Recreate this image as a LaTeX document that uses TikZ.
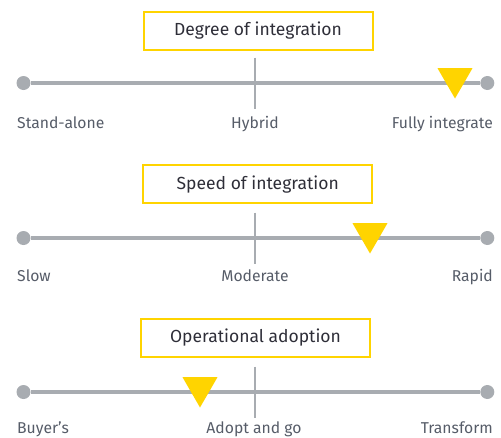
\documentclass[tikz,border=0pt]{standalone}
\usepackage{fontspec}
\setmainfont{Fira Sans}
\usetikzlibrary{shapes.geometric}
\definecolor{eyyellow}{HTML}{FFD400}
\definecolor{trackgray}{HTML}{A8ACB1}
\definecolor{labelgray}{HTML}{565C68}
\definecolor{titlegray}{HTML}{2E2E38}
\begin{document}
\begin{tikzpicture}[x=1pt, y=-1pt,
  title/.style={draw=eyyellow, line width=2pt, minimum width=229pt, minimum height=38pt,
    text=titlegray, font=\fontsize{17.5}{20}\selectfont},
  enddot/.style={circle, fill=trackgray, inner sep=0pt, minimum size=14pt},
  track/.style={trackgray, line width=4.5pt},
  tick/.style={trackgray, line width=1.6pt},
  marker/.style={regular polygon, regular polygon sides=3, shape border rotate=180,
    fill=eyyellow, inner sep=0pt, minimum size=40.4pt},
  scalelabel/.style={text=labelgray, font=\fontsize{15.7}{18}\selectfont, inner sep=0pt}]
  \useasboundingbox (0, 0) rectangle (501, 437);

  %%t1
  \node[title](box1) at (258, 30.7) {Degree of integration};
  \node[enddot](s1) at (23.5, 83) {};
  \node[enddot](e1) at (487.3, 83) {};
  \draw[track](s1) -- (e1);
    \coordinate(ta1) at (255, 57.5);
    \coordinate(tb1) at (255, 108.5);
    \draw[tick](ta1) -- (tb1);
  \node[marker](m1) at (455, 78.3) {};

    \node[scalelabel, anchor=base west](lo1) at (17, 128) {Stand-alone};
    \node[scalelabel, anchor=base](mid1) at (255, 128) {Hybrid};
    \node[scalelabel, anchor=base east](hi1) at (493, 128) {Fully integrate};

  %%t2
  \node[title](box2) at (257.7, 184.3) {Speed of integration};
  \node[enddot](s2) at (23.5, 238) {};
  \node[enddot](e2) at (487.3, 238) {};
  \draw[track](s2) -- (e2);
    \coordinate(ta2) at (255, 212.5);
    \coordinate(tb2) at (255, 263.5);
    \draw[tick](ta2) -- (tb2);
  \node[marker](m2) at (370, 233.3) {};

    \node[scalelabel, anchor=base west](lo2) at (17, 281.5) {Slow};
    \node[scalelabel, anchor=base](mid2) at (255, 281.5) {Moderate};
    \node[scalelabel, anchor=base east](hi2) at (493, 281.5) {Rapid};

  %%t3
  \node[title](box3) at (255.5, 337.8) {Operational adoption};
  \node[enddot](s3) at (23.5, 392) {};
  \node[enddot](e3) at (487.3, 392) {};
  \draw[track](s3) -- (e3);
    \coordinate(ta3) at (255, 366.5);
    \coordinate(tb3) at (255, 417.5);
    \draw[tick](ta3) -- (tb3);
  \node[marker](m3) at (200, 387.3) {};

    \node[scalelabel, anchor=base west](lo3) at (17, 433) {Buyer’s};
    \node[scalelabel, anchor=base](mid3) at (254, 433) {Adopt and go};
    \node[scalelabel, anchor=base east](hi3) at (493, 433) {Transform};

\end{tikzpicture}
\end{document}
